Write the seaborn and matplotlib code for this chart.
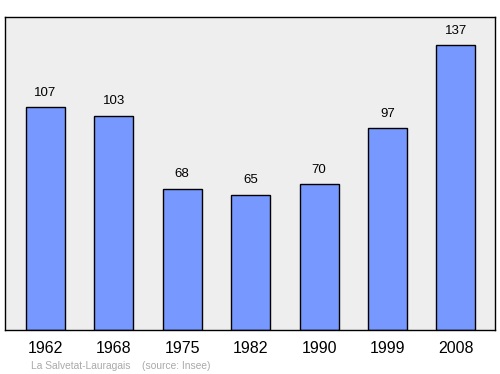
import matplotlib
matplotlib.use("Agg")
import matplotlib.pyplot as plt
import seaborn as sns
import pandas as pd

years = ["1962", "1968", "1975", "1982", "1990", "1999", "2008"]
population = [107, 103, 68, 65, 70, 97, 137]
source_text = "La Salvetat-Lauragais    (source: Insee)"

sns.set_theme(style="white")
plt.rcParams['font.family'] = ['Liberation Sans', 'DejaVu Sans']

df = pd.DataFrame({"year": years, "pop": population})

fig = plt.figure(figsize=(5, 3.74), dpi=100)
ax = fig.add_axes([0.01, 0.1176, 0.98, 0.837])
ax.set_facecolor("#eeeeee")
sns.barplot(data=df, x="year", y="pop", color="#7799ff", saturation=1,
            edgecolor="black", linewidth=1, width=0.57, ax=ax)
ax.set_xlim(-0.59, 6.57)
ax.set_ylim(0, 150.5)
ax.set_yticks([])
ax.set_xlabel("")
ax.set_ylabel("")
ax.tick_params(axis="x", length=0, labelsize=11.5, pad=8, colors="black")
for s in ax.spines.values():
    s.set_color("black")
    s.set_linewidth(1)
for i, v in enumerate(population):
    ax.annotate(str(v), (i, v), xytext=(0, 6), textcoords="offset points",
                ha="center", va="bottom", fontsize=9.5, color="black")
fig.text(0.062, 0.008, source_text, fontsize=7.4, color="#aaaaaa", ha="left", va="bottom")
fig.savefig("out.png", dpi=100)
